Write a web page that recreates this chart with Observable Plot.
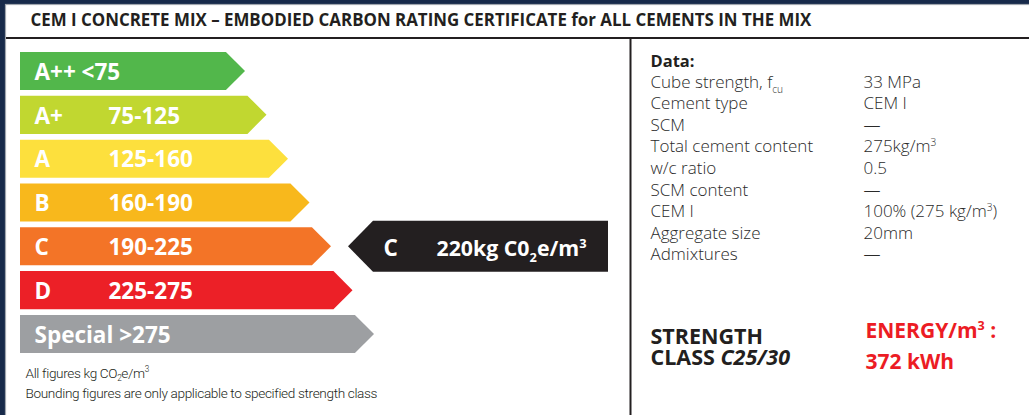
<!DOCTYPE html>
<html><head><meta charset="utf-8">
<script src="https://cdn.jsdelivr.net/npm/d3@7"></script>
<script src="https://cdn.jsdelivr.net/npm/@observablehq/plot@0.6"></script>
<style>
html,body{margin:0;padding:0;background:#172a4a;overflow:hidden;}
#chart svg{display:block;}
.foot{letter-spacing:-0.35px;}
</style></head><body><div id="chart"></div>
<script>
// ---- data ----
const title = "CEM I CONCRETE MIX – EMBODIED CARBON RATING CERTIFICATE for ALL CEMENTS IN THE MIX";
const grades = ["A++", "A+", "A", "B", "C", "D", "Special"];
const ranges = ["<75", "75-125", "125-160", "160-190", "190-225", "225-275", ">275"];
const gradeColors = ["#52b74b", "#c1d730", "#fde03d", "#f8b81c", "#f37427", "#ec2027", "#9d9fa2"];
const ratedGrade = "C";
const ratedValue = "220kg C0_{2}e/m^{3}";
const dataHeading = "Data:";
const dataLabels = ["Cube strength, f_{cu}", "Cement type", "SCM", "Total cement content", "w/c ratio", "SCM content", "CEM I", "Aggregate size", "Admixtures"];
const dataValues = ["33 MPa", "CEM I", "—", "275kg/m^{3}", "0.5", "—", "100% (275 kg/m^{3})", "20mm", "—"];
const footnotes = ["All figures kg CO_{2}e/m^{3}", "Bounding figures are only applicable to specified strength class"];
const strengthLines = ["STRENGTH", "CLASS *{C25/30}"];
const energyLines = ["ENERGY/m^{3} :", "372 kWh"];

// ---- layout ----
const W = 1029, H = 415;
const rowBand = d3.scaleBand(grades, [52, 353]).paddingInner(0.13);
const bw = rowBand.bandwidth();
const barLeft = 20, tip0 = 245, tipStep = 21.5;

const barPts = grades.flatMap((g, i) => {
  const top = rowBand(g), tip = tip0 + i * tipStep, body = tip - bw / 2;
  return [
    {g, y: top, x1: barLeft, x2: body},
    {g, y: top + bw / 2, x1: barLeft, x2: tip},
    {g, y: top + bw, x1: barLeft, x2: body}
  ];
});
const combined = r => r.startsWith("<") || r.startsWith(">");
const gradeLabels = grades.map((g, i) => ({g, text: combined(ranges[i]) ? g + " " + ranges[i] : g, y: rowBand(g) + bw / 2 + 8.3}));
const rangeLabels = grades.map((g, i) => ({g, text: ranges[i], y: rowBand(g) + bw / 2 + 8.3})).filter(d => !combined(d.text));

const rc = rowBand(ratedGrade) + bw / 2, half = 25.5;
const arrowTip = 348, arrowBody = 373, arrowRight = 608;
const arrowPts = [
  {y: rc - half, x1: arrowBody, x2: arrowRight},
  {y: rc, x1: arrowTip, x2: arrowRight},
  {y: rc + half, x1: arrowBody, x2: arrowRight}
];

const dataRow = d3.scalePoint(d3.range(dataLabels.length), [87.3, 87.3 + 8 * 21.55]);
const rows = dataLabels.map((l, i) => ({label: l, value: dataValues[i], y: dataRow(i)}));

const sans = "'Open Sans', 'Noto Sans', sans-serif";
const footFont = "Roboto, 'Open Sans', sans-serif";
const ink = "#231f20";

const chart = Plot.plot({
  width: W, height: H, margin: 0,
  x: {domain: [0, W], range: [0, W], axis: null},
  y: {domain: [0, H], range: [0, H], axis: null},
  color: {domain: grades, range: gradeColors},
  style: {background: "#172a4a", fontFamily: sans},
  marks: [
    Plot.rect([{}], {x1: 5.5, x2: W + 5, y1: 4.5, y2: H + 5, fill: "white", stroke: "#a0a6ae", strokeWidth: 1.2}),
    Plot.text([title], {x: 30, y: 25.5, text: d => d, textAnchor: "start", lineAnchor: "bottom", fontSize: 16.9, fontWeight: "bold", fill: ink}),
    Plot.ruleY([37.5], {x1: 6, x2: W, stroke: ink, strokeWidth: 2}),
    Plot.ruleX([630], {y1: 38, y2: H, stroke: ink, strokeWidth: 2}),
    Plot.areaX(barPts, {y: "y", x1: "x1", x2: "x2", z: "g", fill: "g", curve: "linear"}),
    Plot.text(gradeLabels, {x: 34, y: "y", text: "text", textAnchor: "start", lineAnchor: "bottom", fontSize: 22.5, fontWeight: "bold", fill: "white"}),
    Plot.text(rangeLabels, {x: 108, y: "y", text: "text", textAnchor: "start", lineAnchor: "bottom", fontSize: 22.5, fontWeight: "bold", fill: "white"}),
    Plot.areaX(arrowPts, {y: "y", x1: "x1", x2: "x2", fill: ink, curve: "linear"}),
    Plot.text([ratedGrade], {x: 383, y: rc + 9.5, text: d => d, textAnchor: "start", lineAnchor: "bottom", fontSize: 22.5, fontWeight: "bold", fill: "white"}),
    Plot.text([ratedValue], {x: 436, y: rc + 9.5, text: d => d, textAnchor: "start", lineAnchor: "bottom", fontSize: 21.3, fontWeight: "bold", fill: "white"}),
    Plot.text(footnotes, {x: 25, y: (d, i) => 377 + i * 20.3, text: d => d, textAnchor: "start", lineAnchor: "bottom", fontSize: 13.6, fontWeight: 300, fontFamily: footFont, fill: ink, className: "foot"}),
    Plot.text([dataHeading], {x: 650, y: 66.5, text: d => d, textAnchor: "start", lineAnchor: "bottom", fontSize: 16.5, fontWeight: "bold", fill: ink}),
    Plot.text(rows, {x: 650, y: "y", text: "label", textAnchor: "start", lineAnchor: "bottom", fontSize: 17, fontWeight: 300, fill: "#2a2a2a"}),
    Plot.text(rows, {x: 863, y: "y", text: "value", textAnchor: "start", lineAnchor: "bottom", fontSize: 17, fontWeight: 300, fill: "#2a2a2a"}),
    Plot.text([strengthLines.join("\n")], {x: 650, y: 364.3, text: d => d, textAnchor: "start", lineAnchor: "bottom", lineHeight: 21 / 21.5, fontSize: 21.5, fontWeight: "bold", fill: ink}),
    Plot.text(energyLines, {x: 865, y: (d, i) => 337 + i * 31, text: d => d, textAnchor: "start", lineAnchor: "bottom", fontSize: 21, fontWeight: "bold", fill: "#ec1c24"})
  ]
});
document.getElementById("chart").appendChild(chart);

// rich text: _{sub}, ^{sup}, *{italic}
function enrich(t) {
  const s = t.textContent;
  if (!/[_^*]\{/.test(s)) return;
  const fs = parseFloat(getComputedStyle(t).fontSize) || 16;
  const re = /([_^*])\{([^}]*)\}/g;
  const segs = []; let last = 0, m;
  while ((m = re.exec(s))) {
    if (m.index > last) segs.push({k: "", v: s.slice(last, m.index)});
    segs.push({k: m[1], v: m[2]});
    last = re.lastIndex;
  }
  if (last < s.length) segs.push({k: "", v: s.slice(last)});
  while (t.firstChild) t.removeChild(t.firstChild);
  let cur = 0;
  segs.forEach(sg => {
    const sp = document.createElementNS("http://www.w3.org/2000/svg", "tspan");
    const shift = sg.k === "_" ? 0.28 * fs : sg.k === "^" ? -0.38 * fs : 0;
    if (shift !== cur) sp.setAttribute("dy", shift - cur);
    cur = shift;
    if (sg.k === "_" || sg.k === "^") sp.setAttribute("font-size", (0.6 * fs).toFixed(1));
    if (sg.k === "*") sp.setAttribute("font-style", "italic");
    sp.textContent = sg.v;
    t.appendChild(sp);
  });
}
chart.querySelectorAll("text").forEach(t => {
  const lines = t.querySelectorAll(":scope > tspan");
  if (lines.length) lines.forEach(enrich); else enrich(t);
});
</script></body></html>
